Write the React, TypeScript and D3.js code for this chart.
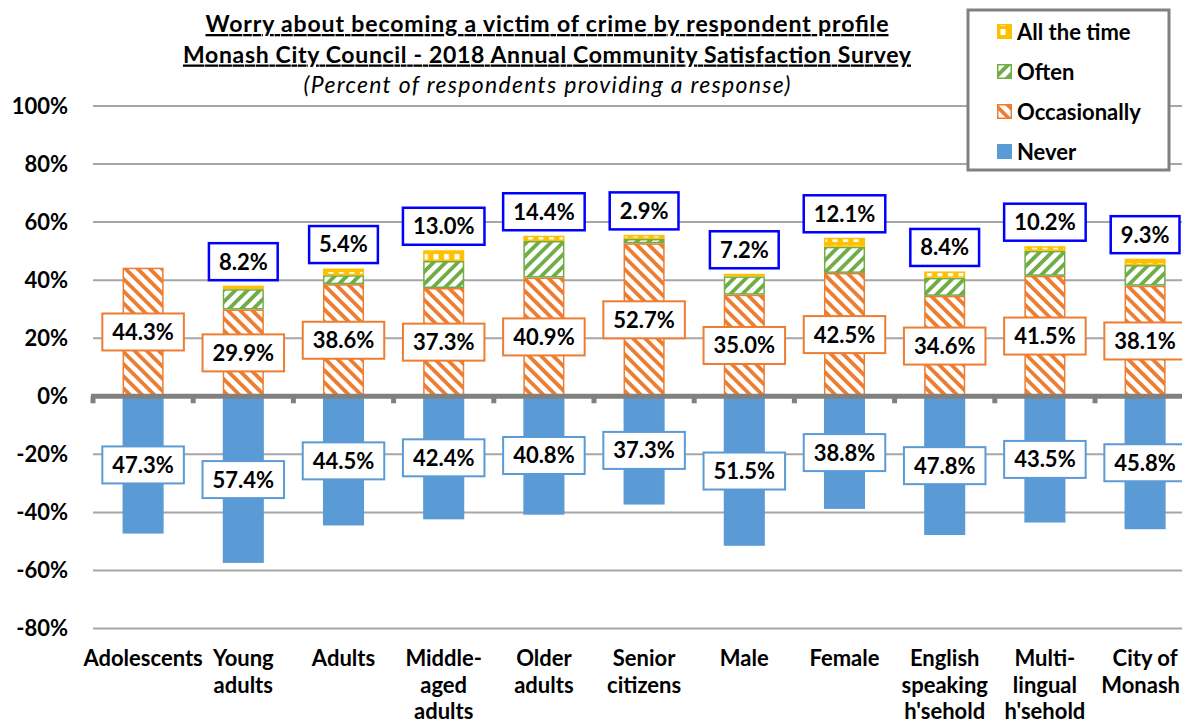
import { useEffect, useRef } from 'react';
import * as d3 from 'd3';

const categories = [
  'Adolescents',
  'Young adults',
  'Adults',
  'Middle-aged adults',
  'Older adults',
  'Senior citizens',
  'Male',
  'Female',
  'English speaking',
  'Multi-lingual',
  'City of Monash'
];

const categoryLines = [
  ['Adolescents'],
  ['Young', 'adults'],
  ['Adults'],
  ['Middle-', 'aged', 'adults'],
  ['Older', 'adults'],
  ['Senior', 'citizens'],
  ['Male'],
  ['Female'],
  ['English', 'speaking', "h'sehold"],
  ['Multi-', 'lingual', "h'sehold"],
  ['City of', 'Monash']
];

const never = [47.3, 57.4, 44.5, 42.4, 40.8, 37.3, 51.5, 38.8, 47.8, 43.5, 45.8];
const occasionally = [44.3, 29.9, 38.6, 37.3, 40.9, 52.7, 35.0, 42.5, 34.6, 41.5, 38.1];
const often = [0, 7.0, 3.1, 9.3, 12.6, 1.5, 6.3, 9.0, 6.2, 8.6, 7.1];
const allTheTime = [0, 1.2, 2.3, 3.7, 1.8, 1.4, 0.9, 3.1, 2.2, 1.6, 2.2];

const yTicks = [-80, -60, -40, -20, 0, 20, 40, 60, 80, 100];

const titleLines = [
  'Worry about  becoming a victim of crime by respondent profile',
  'Monash  City Council  - 2018 Annual  Community Satisfaction  Survey'
];
const subtitle = '(Percent  of respondents providing a response)';

const legendItems = [
  { key: 'all', label: 'All the time' },
  { key: 'often', label: 'Often' },
  { key: 'occ', label: 'Occasionally' },
  { key: 'never', label: 'Never' }
];

const FONT = 'Lato, "Liberation Sans", Arial, sans-serif';
const ORANGE = '#ED7D31';
const GREEN = '#70AD47';
const YELLOW = '#FFC000';
const BLUE = '#5B9BD5';

export default function App() {
  const svgRef = useRef<SVGSVGElement | null>(null);

  useEffect(() => {
    const svg = svgRef.current;
    if (!svg) return;

    const width = 1182;
    const height = 724;
    const left = 93;
    const step = 100.2;
    const fs = 22;

    const x = d3
      .scaleBand<string>()
      .domain(categories)
      .range([left, left + step * categories.length])
      .paddingInner(0.59)
      .paddingOuter(0.295);

    const y = d3.scaleLinear().domain([-80, 100]).range([628.5, 106]);

    const root = d3.select(svg);
    root.attr('viewBox', `0 0 ${width} ${height}`);
    root.selectAll('*').remove();

    const ctx = document.createElement('canvas').getContext('2d')!;
    ctx.font = `bold ${fs}px ${FONT}`;
    const measure = (s: string) => ctx.measureText(s).width;

    // patterns
    const defs = root.append('defs');
    const stripe = (id: string, color: string, angle: number) => {
      const p = defs
        .append('pattern')
        .attr('id', id)
        .attr('patternUnits', 'userSpaceOnUse')
        .attr('width', 8.6)
        .attr('height', 8.6)
        .attr('patternTransform', `rotate(${angle})`);
      p.append('rect').attr('width', 8.6).attr('height', 8.6).attr('fill', '#fff');
      p.append('rect').attr('width', 3.8).attr('height', 8.6).attr('fill', color);
    };
    stripe('pat-occ', ORANGE, -45);
    stripe('pat-often', GREEN, 45);
    const dash = defs
      .append('pattern')
      .attr('id', 'pat-all')
      .attr('patternUnits', 'userSpaceOnUse')
      .attr('width', 10.5)
      .attr('height', 9);
    dash.append('rect').attr('width', 10.5).attr('height', 9).attr('fill', YELLOW);
    dash.append('rect').attr('x', 3).attr('y', 2).attr('width', 5).attr('height', 6).attr('fill', '#fff');

    const fills: Record<string, string> = {
      never: BLUE,
      occ: 'url(#pat-occ)',
      often: 'url(#pat-often)',
      all: 'url(#pat-all)'
    };
    const strokes: Record<string, string> = { never: BLUE, occ: ORANGE, often: GREEN, all: YELLOW };

    // gridlines
    root
      .append('g')
      .selectAll('line')
      .data(yTicks.filter((t) => t !== 0))
      .join('line')
      .attr('x1', left)
      .attr('x2', width)
      .attr('y1', (d) => y(d))
      .attr('y2', (d) => y(d))
      .attr('stroke', '#a6a6a6')
      .attr('stroke-width', 2);

    // y tick labels
    root
      .append('g')
      .selectAll('text')
      .data(yTicks)
      .join('text')
      .attr('x', 68)
      .attr('y', (d) => y(d))
      .attr('dy', '0.35em')
      .attr('text-anchor', 'end')
      .attr('font-family', FONT)
      .attr('font-weight', 'bold')
      .attr('font-size', fs)
      .text((d) => `${d}%`);

    // stacked bars
    const rows = categories.map((c, i) => ({
      cat: c,
      never: -never[i],
      occ: occasionally[i],
      often: often[i],
      all: allTheTime[i]
    }));
    const stack = d3
      .stack<any>()
      .keys(['never', 'occ', 'often', 'all'])
      .offset(d3.stackOffsetDiverging);
    const series = stack(rows);

    const bw = x.bandwidth();
    series.forEach((s) => {
      root
        .append('g')
        .selectAll('rect')
        .data(s.filter((d) => d[1] - d[0] !== 0))
        .join('rect')
        .attr('x', (d) => x(d.data.cat)! + 0.75)
        .attr('width', bw - 1.5)
        .attr('y', (d) => y(Math.max(d[0], d[1])) + 0.75)
        .attr('height', (d) => Math.abs(y(d[0]) - y(d[1])) - 1.5)
        .attr('fill', fills[s.key])
        .attr('stroke', strokes[s.key])
        .attr('stroke-width', 1.5);
    });

    // zero line with ticks
    const y0 = y(0);
    const zero = root.append('g');
    zero
      .append('line')
      .attr('x1', left - 2)
      .attr('x2', width)
      .attr('y1', y0)
      .attr('y2', y0)
      .attr('stroke', '#808080')
      .attr('stroke-width', 5);
    zero
      .selectAll('rect')
      .data(d3.range(categories.length + 1))
      .join('rect')
      .attr('x', (k) => left + k * step - 2.5)
      .attr('y', y0)
      .attr('width', 5)
      .attr('height', 7)
      .attr('fill', '#808080');

    // data labels
    const label = (cx: number, cy: number, text: string, stroke: string, sw: number) => {
      const w = measure(text) + 20;
      const h = 37;
      const g = root.append('g');
      g.append('rect')
        .attr('x', cx - w / 2)
        .attr('y', cy - h / 2)
        .attr('width', w)
        .attr('height', h)
        .attr('fill', '#fff')
        .attr('stroke', stroke)
        .attr('stroke-width', sw);
      g.append('text')
        .attr('x', cx)
        .attr('y', cy)
        .attr('dy', '0.36em')
        .attr('text-anchor', 'middle')
        .attr('font-family', FONT)
        .attr('font-weight', 'bold')
        .attr('font-size', fs)
        .text(text);
    };

    categories.forEach((c, i) => {
      const cx = x(c)! + bw / 2;
      label(cx, y(-never[i] / 2), `${never[i].toFixed(1)}%`, BLUE, 2);
      label(cx, y(occasionally[i] / 2), `${occasionally[i].toFixed(1)}%`, ORANGE, 2);
      const worry = often[i] + allTheTime[i];
      if (worry > 0) {
        label(cx, y(occasionally[i] + worry) - 24, `${worry.toFixed(1)}%`, '#0000FF', 2.5);
      }
    });

    // category labels (kept inside the right edge)
    const cats = root.append('g');
    categories.forEach((c, i) => {
      const t = cats
        .append('text')
        .attr('text-anchor', 'middle')
        .attr('font-family', FONT)
        .attr('font-weight', 'bold')
        .attr('font-size', fs);
      categoryLines[i].forEach((ln, j) => {
        const cx = Math.min(x(c)! + bw / 2, width - 2 - measure(ln) / 2);
        t.append('tspan')
          .attr('x', cx)
          .attr('y', 666 + j * 26.5)
          .text(ln);
      });
    });

    // title
    const title = root.append('g').attr('font-family', FONT).attr('text-anchor', 'middle');
    const titleWidths = [683, 728];
    titleLines.forEach((ln, j) => {
      title
        .append('text')
        .attr('x', 547)
        .attr('y', 32 + j * 30.5)
        .attr('font-weight', 'bold')
        .attr('font-size', 23)
        .attr('textLength', titleWidths[j])
        .attr('lengthAdjust', 'spacing')
        .attr('text-decoration', 'underline')
        .text(ln);
    });
    title
      .append('text')
      .attr('x', 547)
      .attr('y', 93)
      .attr('font-style', 'italic')
      .attr('font-size', 23)
      .attr('textLength', 487)
      .attr('lengthAdjust', 'spacing')
      .text(subtitle);

    // legend
    const lg = root.append('g');
    lg.append('rect')
      .attr('x', 968)
      .attr('y', 10)
      .attr('width', 201)
      .attr('height', 160)
      .attr('fill', '#fff')
      .attr('stroke', '#808080')
      .attr('stroke-width', 3);
    legendItems.forEach((it, j) => {
      const cy = 32 + j * 40;
      lg.append('rect')
        .attr('x', 997.75)
        .attr('y', cy - 7.25)
        .attr('width', 13.5)
        .attr('height', 13.5)
        .attr('fill', fills[it.key])
        .attr('stroke', strokes[it.key])
        .attr('stroke-width', 1.5);
      lg.append('text')
        .attr('x', 1017)
        .attr('y', cy)
        .attr('dy', '0.36em')
        .attr('font-family', FONT)
        .attr('font-weight', 'bold')
        .attr('font-size', fs)
        .text(it.label);
    });
  }, []);

  return (
    <div style={{ position: 'absolute', left: 0, top: 0, width: 1182, height: 724, background: '#fff' }}>
      <svg ref={svgRef} width={1182} height={724} style={{ display: 'block' }} />
    </div>
  );
}
